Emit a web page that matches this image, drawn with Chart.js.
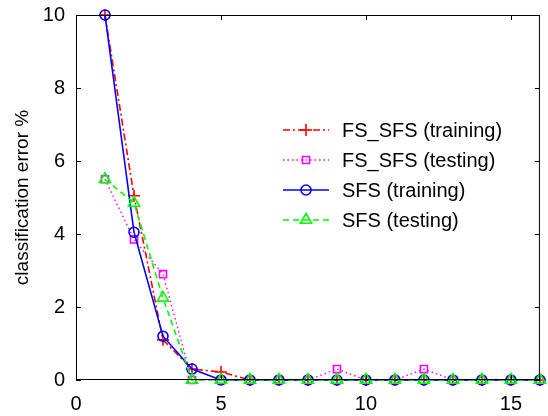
<!DOCTYPE html>
<html>
<head>
<meta charset="utf-8">
<script src="https://cdn.jsdelivr.net/npm/chart.js@4/dist/chart.umd.min.js"></script>
<style>
  html, body { margin: 0; padding: 0; background: #fff; }
  #wrap { width: 548px; height: 416px; }
</style>
</head>
<body>
<div id="wrap"><canvas id="myChart" width="548" height="416"></canvas></div>
<script>
// x positions (number of features)
const featureCounts = [1, 2, 3, 4, 5, 6, 7, 8, 9, 10, 11, 12, 13, 14, 15, 16];
const fsSfsTraining = [10, 5.05, 1.1, 0.3, 0.22, 0, 0, 0, 0, 0, 0, 0, 0, 0, 0, 0];
const fsSfsTesting = [5.5, 3.85, 2.9, 0, 0, 0, 0, 0, 0.3, 0, 0, 0.3, 0, 0, 0, 0];
const sfsTraining = [10, 4.05, 1.2, 0.3, 0, 0, 0, 0, 0, 0, 0, 0, 0, 0, 0, 0];
const sfsTesting = [5.5, 4.85, 2.25, 0, 0, 0, 0, 0, 0, 0, 0, 0, 0, 0, 0, 0];
const xTicks = [0, 5, 10, 15];
const yTicks = [0, 2, 4, 6, 8, 10];

const FONT = "'Liberation Sans', Arial, Helvetica, sans-serif";

const toPoints = (vals) => vals.map((v, i) => ({ x: featureCounts[i], y: v }));

// matlab-like box with inward ticks
const boxPlugin = {
  id: 'box',
  afterDatasetsDraw(chart) {
    const { ctx, chartArea: a, scales } = chart;
    ctx.save();
    ctx.strokeStyle = '#000';
    ctx.lineWidth = 1;
    ctx.strokeRect(a.left + 0.5, a.top + 0.5, a.right - a.left - 1, a.bottom - a.top - 1);
    ctx.beginPath();
    xTicks.forEach((t) => {
      const px = Math.round(scales.x.getPixelForValue(t)) + 0.5;
      ctx.moveTo(px, a.bottom); ctx.lineTo(px, a.bottom - 5);
      ctx.moveTo(px, a.top); ctx.lineTo(px, a.top + 5);
    });
    yTicks.forEach((t) => {
      const py = Math.round(scales.y.getPixelForValue(t)) + 0.5;
      ctx.moveTo(a.left, py); ctx.lineTo(a.left + 5, py);
      ctx.moveTo(a.right, py); ctx.lineTo(a.right - 5, py);
    });
    ctx.stroke();
    ctx.restore();
  }
};

// legend drawn inside the axes, line sample plus marker
const legendPlugin = {
  id: 'insideLegend',
  afterDraw(chart) {
    const { ctx } = chart;
    const x0 = 283, x1 = 329, textX = 342;
    let y = 130;
    ctx.save();
    chart.data.datasets.forEach((ds) => {
      ctx.strokeStyle = ds.borderColor;
      ctx.lineWidth = ds.borderWidth;
      ctx.setLineDash(ds.borderDash || []);
      ctx.beginPath();
      ctx.moveTo(x0, y); ctx.lineTo(x1, y);
      ctx.stroke();
      ctx.setLineDash([]);
      ctx.fillStyle = 'rgba(0,0,0,0)';
      ctx.lineWidth = ds.pointBorderWidth;
      Chart.helpers.drawPoint(ctx, {
        pointStyle: ds.pointStyle,
        radius: ds.pointRadius,
        borderWidth: ds.pointBorderWidth,
        rotation: 0
      }, (x0 + x1) / 2, y);
      ctx.fillStyle = '#000';
      ctx.font = '20px ' + FONT;
      ctx.textBaseline = 'middle';
      ctx.fillText(ds.label, textX, y + 1);
      y += 30;
    });
    ctx.restore();
  }
};

const ctx = document.getElementById('myChart').getContext('2d');
new Chart(ctx, {
  type: 'line',
  data: {
    datasets: [
      {
        label: 'FS_SFS (training)',
        data: toPoints(fsSfsTraining),
        borderColor: '#ff0000',
        backgroundColor: 'rgba(0,0,0,0)',
        borderWidth: 1.6,
        borderDash: [7, 3, 2, 3],
        pointStyle: 'cross',
        pointRadius: 6,
        pointBorderWidth: 1.6,
        order: 4
      },
      {
        label: 'FS_SFS (testing)',
        data: toPoints(fsSfsTesting),
        borderColor: '#ff00ff',
        backgroundColor: 'rgba(0,0,0,0)',
        borderWidth: 1.4,
        borderDash: [1.5, 3],
        pointStyle: 'rect',
        pointRadius: 5,
        pointBorderWidth: 1.6,
        order: 3
      },
      {
        label: 'SFS (training)',
        data: toPoints(sfsTraining),
        borderColor: '#0000ff',
        backgroundColor: 'rgba(0,0,0,0)',
        borderWidth: 1.6,
        pointStyle: 'circle',
        pointRadius: 5,
        pointBorderWidth: 1.6,
        order: 2
      },
      {
        label: 'SFS (testing)',
        data: toPoints(sfsTesting),
        borderColor: '#00ff00',
        backgroundColor: 'rgba(0,0,0,0)',
        borderWidth: 1.6,
        borderDash: [6, 4],
        pointStyle: 'triangle',
        pointRadius: 6.5,
        pointBorderWidth: 1.6,
        order: 1
      }
    ]
  },
  options: {
    responsive: false,
    animation: false,
    clip: false,
    layout: { padding: { left: 0, right: 7, top: 15, bottom: 0 } },
    plugins: {
      legend: { display: false },
      tooltip: { enabled: false }
    },
    scales: {
      x: {
        type: 'linear',
        min: 0,
        max: 16,
        afterBuildTicks: (scale) => { scale.ticks = xTicks.map((v) => ({ value: v })); },
        afterFit: (scale) => {
          scale.height = 36;
          scale.paddingLeft = 0;
          scale.paddingRight = 0;
        },
        grid: { display: false, drawTicks: false },
        border: { display: false },
        ticks: { color: '#000', font: { family: FONT, size: 20 }, padding: 12, maxRotation: 0 }
      },
      y: {
        min: 0,
        max: 10,
        afterBuildTicks: (scale) => { scale.ticks = yTicks.map((v) => ({ value: v })); },
        afterFit: (scale) => {
          scale.width = 76;
          scale.paddingTop = 0;
          scale.paddingBottom = 0;
        },
        grid: { display: false, drawTicks: false },
        border: { display: false },
        title: {
          display: true,
          text: 'classification error %',
          color: '#000',
          font: { family: FONT, size: 19 },
          padding: { top: 11, bottom: 0 }
        },
        ticks: { color: '#000', font: { family: FONT, size: 20 }, padding: 11 }
      }
    }
  },
  plugins: [boxPlugin, legendPlugin]
});
</script>
</body>
</html>
